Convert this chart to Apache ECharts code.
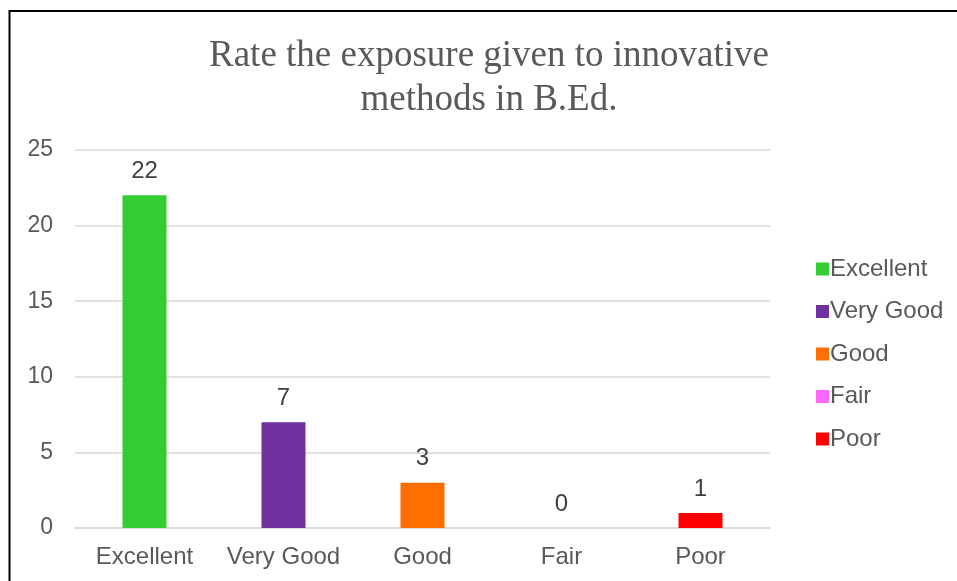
<!DOCTYPE html>
<html>
<head>
<meta charset="utf-8">
<script src="https://cdn.jsdelivr.net/npm/echarts@6/dist/echarts.min.js"></script>
<style>
html,body{margin:0;padding:0;background:#fff;}
#chart{width:957px;height:581px;}
</style>
</head>
<body>
<div id="chart"></div>
<script>
const titleText = 'Rate the exposure given to innovative\nmethods in B.Ed.';
const categories = ['Excellent', 'Very Good', 'Good', 'Fair', 'Poor'];
const values = [22, 7, 3, 0, 1];
const yTicks = [0, 5, 10, 15, 20, 25];

const palette = ['#33CC33', '#7030A0', '#FF6F00', '#FF66FF', '#FF0000'];

const chart = echarts.init(document.getElementById('chart'));
const series = categories.map((name, i) => ({
  name: name,
  type: 'bar',
  stack: 'all',
  barWidth: 44,
  itemStyle: { color: palette[i] },
  label: {
    show: true,
    position: 'top',
    distance: 12,
    color: '#404040',
    fontFamily: 'Liberation Sans',
    fontSize: 24
  },
  data: categories.map((c, j) => (j === i ? values[i] : '-'))
}));

chart.setOption({
  animation: false,
  backgroundColor: '#fff',
  title: {
    text: titleText,
    left: 484,
    top: 29,
    textAlign: 'center',
    textStyle: {
      fontFamily: 'Liberation Serif',
      fontWeight: 'normal',
      fontSize: 37,
      lineHeight: 44,
      color: '#595959'
    }
  },
  graphic: [{
    type: 'rect',
    shape: { x: 9.5, y: 11, width: 1200, height: 1200 },
    style: { fill: 'none', stroke: '#000', lineWidth: 2 },
    silent: true
  }],
  legend: {
    orient: 'vertical',
    left: 811,
    top: 252,
    itemWidth: 13,
    itemHeight: 13,
    itemGap: 18.5,
    icon: 'rect',
    textStyle: {
      fontFamily: 'Liberation Sans',
      fontSize: 24,
      color: '#595959',
      padding: [0, 0, 0, -4]
    },
    data: categories
  },
  grid: { left: 75, right: 187, top: 150, bottom: 53, containLabel: false },
  xAxis: {
    type: 'category',
    data: categories,
    axisLine: { lineStyle: { color: '#d9d9d9', width: 1.5 } },
    axisTick: { show: false },
    axisLabel: {
      interval: 0,
      hideOverlap: false,
      color: '#595959',
      fontFamily: 'Liberation Sans',
      fontSize: 24,
      margin: 17
    }
  },
  yAxis: {
    type: 'value',
    min: yTicks[0],
    max: yTicks[yTicks.length - 1],
    interval: yTicks[1] - yTicks[0],
    axisLine: { show: false },
    axisTick: { show: false },
    splitLine: { lineStyle: { color: '#d9d9d9', width: 1.5 } },
    axisLabel: {
      color: '#595959',
      fontFamily: 'Liberation Sans',
      fontSize: 23,
      margin: 22
    }
  },
  series: series
});
</script>
</body>
</html>
